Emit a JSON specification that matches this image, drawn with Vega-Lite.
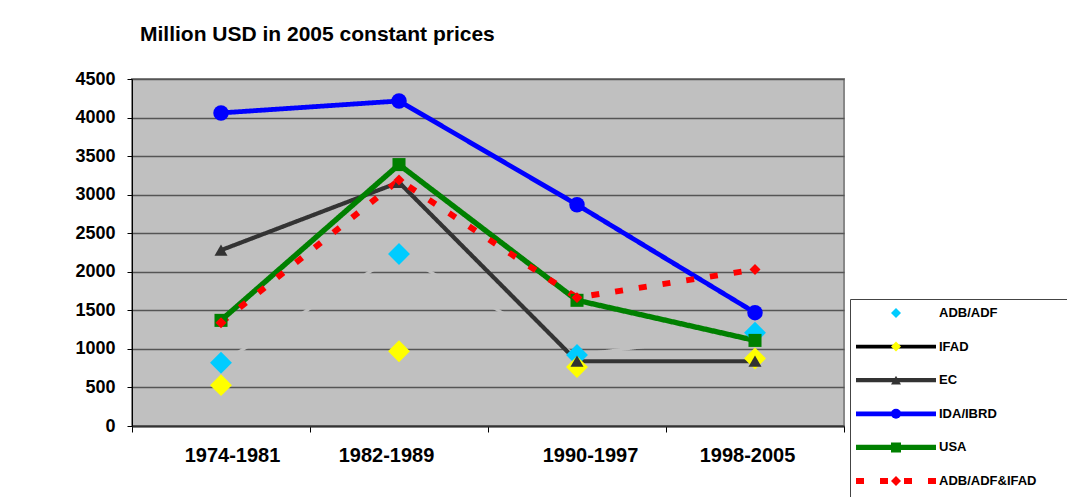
{
  "$schema": "https://vega.github.io/schema/vega-lite/v6.json",
  "width": 712,
  "height": 347,
  "autosize": {"type": "none"},
  "padding": {"left": 132, "top": 79, "right": 223, "bottom": 71},
  "background": "white",
  "title": {"text": "Million USD in 2005 constant prices", "anchor": "start", "frame": "group", "dx": 8, "offset": 25, "fontSize": 21, "fontWeight": "bold", "font": "Liberation Sans", "color": "black"},
  "data": {"values": [
    {"period": "1974-1981", "series": "ADB/ADF", "order": 1, "value": 820},
    {"period": "1982-1989", "series": "ADB/ADF", "order": 1, "value": 2230},
    {"period": "1990-1997", "series": "ADB/ADF", "order": 1, "value": 920},
    {"period": "1998-2005", "series": "ADB/ADF", "order": 1, "value": 1210},
    {"period": "1974-1981", "series": "IFAD", "order": 2, "value": 530},
    {"period": "1982-1989", "series": "IFAD", "order": 2, "value": 970},
    {"period": "1990-1997", "series": "IFAD", "order": 2, "value": 765},
    {"period": "1998-2005", "series": "IFAD", "order": 2, "value": 875},
    {"period": "1974-1981", "series": "EC", "order": 3, "value": 2280},
    {"period": "1982-1989", "series": "EC", "order": 3, "value": 3160},
    {"period": "1990-1997", "series": "EC", "order": 3, "value": 840},
    {"period": "1998-2005", "series": "EC", "order": 3, "value": 840},
    {"period": "1974-1981", "series": "IDA/IBRD", "order": 4, "value": 4060},
    {"period": "1982-1989", "series": "IDA/IBRD", "order": 4, "value": 4215},
    {"period": "1990-1997", "series": "IDA/IBRD", "order": 4, "value": 2870},
    {"period": "1998-2005", "series": "IDA/IBRD", "order": 4, "value": 1470},
    {"period": "1974-1981", "series": "USA", "order": 5, "value": 1370},
    {"period": "1982-1989", "series": "USA", "order": 5, "value": 3390},
    {"period": "1990-1997", "series": "USA", "order": 5, "value": 1630},
    {"period": "1998-2005", "series": "USA", "order": 5, "value": 1110},
    {"period": "1974-1981", "series": "ADB/ADF&IFAD", "order": 6, "value": 1340},
    {"period": "1982-1989", "series": "ADB/ADF&IFAD", "order": 6, "value": 3190},
    {"period": "1990-1997", "series": "ADB/ADF&IFAD", "order": 6, "value": 1665},
    {"period": "1998-2005", "series": "ADB/ADF&IFAD", "order": 6, "value": 2030}
  ]},
  "encoding": {
    "x": {"field": "period", "type": "ordinal", "scale": {"type": "band", "paddingInner": 0, "paddingOuter": 0},
      "axis": {"title": null, "labelAngle": 0, "tickBand": "extent", "tickColor": "black", "tickSize": 6, "domainColor": "#333333", "domainWidth": 2, "grid": false, "labelFont": "Liberation Sans", "labelFontSize": 20, "labelFontWeight": "bold", "labelColor": "black", "labelPadding": 13,
        "labelOffset": {"condition": [
          {"test": "datum.value === '1974-1981'", "value": 11},
          {"test": "datum.value === '1982-1989'", "value": -13},
          {"test": "datum.value === '1990-1997'", "value": 13}
        ], "value": -8}}},
    "y": {"field": "value", "type": "quantitative", "scale": {"domain": [0, 4500], "nice": false},
      "axis": {"title": null, "format": "d", "values": [0, 500, 1000, 1500, 2000, 2500, 3000, 3500, 4000, 4500], "domainColor": "black", "tickColor": "black", "tickSize": 5, "labelFont": "Liberation Sans", "labelFontSize": 18, "labelFontWeight": "bold", "labelColor": "black", "labelPadding": 12, "gridColor": "#555555", "gridWidth": 1.5, "gridOpacity": 1}}
  },
  "layer": [
    {
      "transform": [{"filter": "datum.series !== 'IFAD'"}],
      "mark": {"type": "line", "strokeJoin": "round"},
      "encoding": {
        "stroke": {"field": "series", "type": "nominal",
          "scale": {"domain": ["ADB/ADF", "IFAD", "EC", "IDA/IBRD", "USA", "ADB/ADF&IFAD"], "range": ["#C0C0C0", "#000000", "#333333", "#0000FF", "#008000", "#FF0000"]},
          "legend": {"title": null, "orient": "none", "legendX": 721, "legendY": 226, "direction": "vertical", "padding": 0, "symbolType": "stroke", "symbolSize": 6400, "labelFont": "Liberation Sans", "labelFontSize": 13, "labelFontWeight": "bold", "labelColor": "black", "labelOffset": 0, "clipHeight": 16, "rowPadding": 17.6,
            "encode": {"symbols": {"update": {"strokeOpacity": {"signal": "datum.value === 'ADB/ADF' ? 0 : 1"}}}}}},
        "strokeDash": {"field": "series", "type": "nominal",
          "scale": {"domain": ["ADB/ADF", "IFAD", "EC", "IDA/IBRD", "USA", "ADB/ADF&IFAD"], "range": [[1, 0], [1, 0], [1, 0], [1, 0], [1, 0], [8, 16]]}},
        "strokeWidth": {"field": "series", "type": "nominal",
          "scale": {"domain": ["ADB/ADF", "IFAD", "EC", "IDA/IBRD", "USA", "ADB/ADF&IFAD"], "range": [3, 6, 3, 3.5, 3, 3]}}
      }
    },
    {
      "mark": {"type": "point", "filled": true, "opacity": 1, "strokeWidth": 0},
      "encoding": {
        "color": {"field": "series", "type": "nominal", "sort": {"field": "order", "op": "min"},
          "scale": {"range": ["#00CCFF", "#FFFF00", "#333333", "#0000FF", "#008000", "#FF0000"]},
          "legend": {"title": " ", "titleOrient": "bottom", "titleFontSize": 12, "orient": "none", "legendX": 718, "legendY": 220, "direction": "vertical", "padding": 6, "symbolSize": 100, "symbolOffset": 34, "symbolStrokeWidth": 0, "symbolOpacity": 1, "labelExpr": "' '", "labelFontSize": 12, "labelOffset": 230, "clipHeight": 16, "rowPadding": 17.6, "strokeColor": "#444444"}},
        "shape": {"field": "series", "type": "nominal", "sort": {"field": "order", "op": "min"},
          "scale": {"range": ["diamond", "diamond", "triangle-up", "circle", "square", "diamond"]},
          "legend": {"title": " ", "titleOrient": "bottom", "titleFontSize": 12, "orient": "none", "legendX": 718, "legendY": 220, "direction": "vertical", "padding": 6, "symbolSize": 100, "symbolOffset": 34, "symbolStrokeWidth": 0, "symbolOpacity": 1, "labelExpr": "' '", "labelFontSize": 12, "labelOffset": 230, "clipHeight": 16, "rowPadding": 17.6, "strokeColor": "#444444"}},
        "size": {"condition": [
          {"test": "datum.series === 'ADB/ADF' || datum.series === 'IFAD'", "value": 480},
          {"test": "datum.series === 'IDA/IBRD'", "value": 240},
          {"test": "datum.series === 'ADB/ADF&IFAD'", "value": 120}
        ], "value": 170}
      }
    }
  ],
  "config": {
    "font": "Liberation Sans",
    "view": {"fill": "#C0C0C0", "stroke": "#888888", "strokeWidth": 2}
  }
}
